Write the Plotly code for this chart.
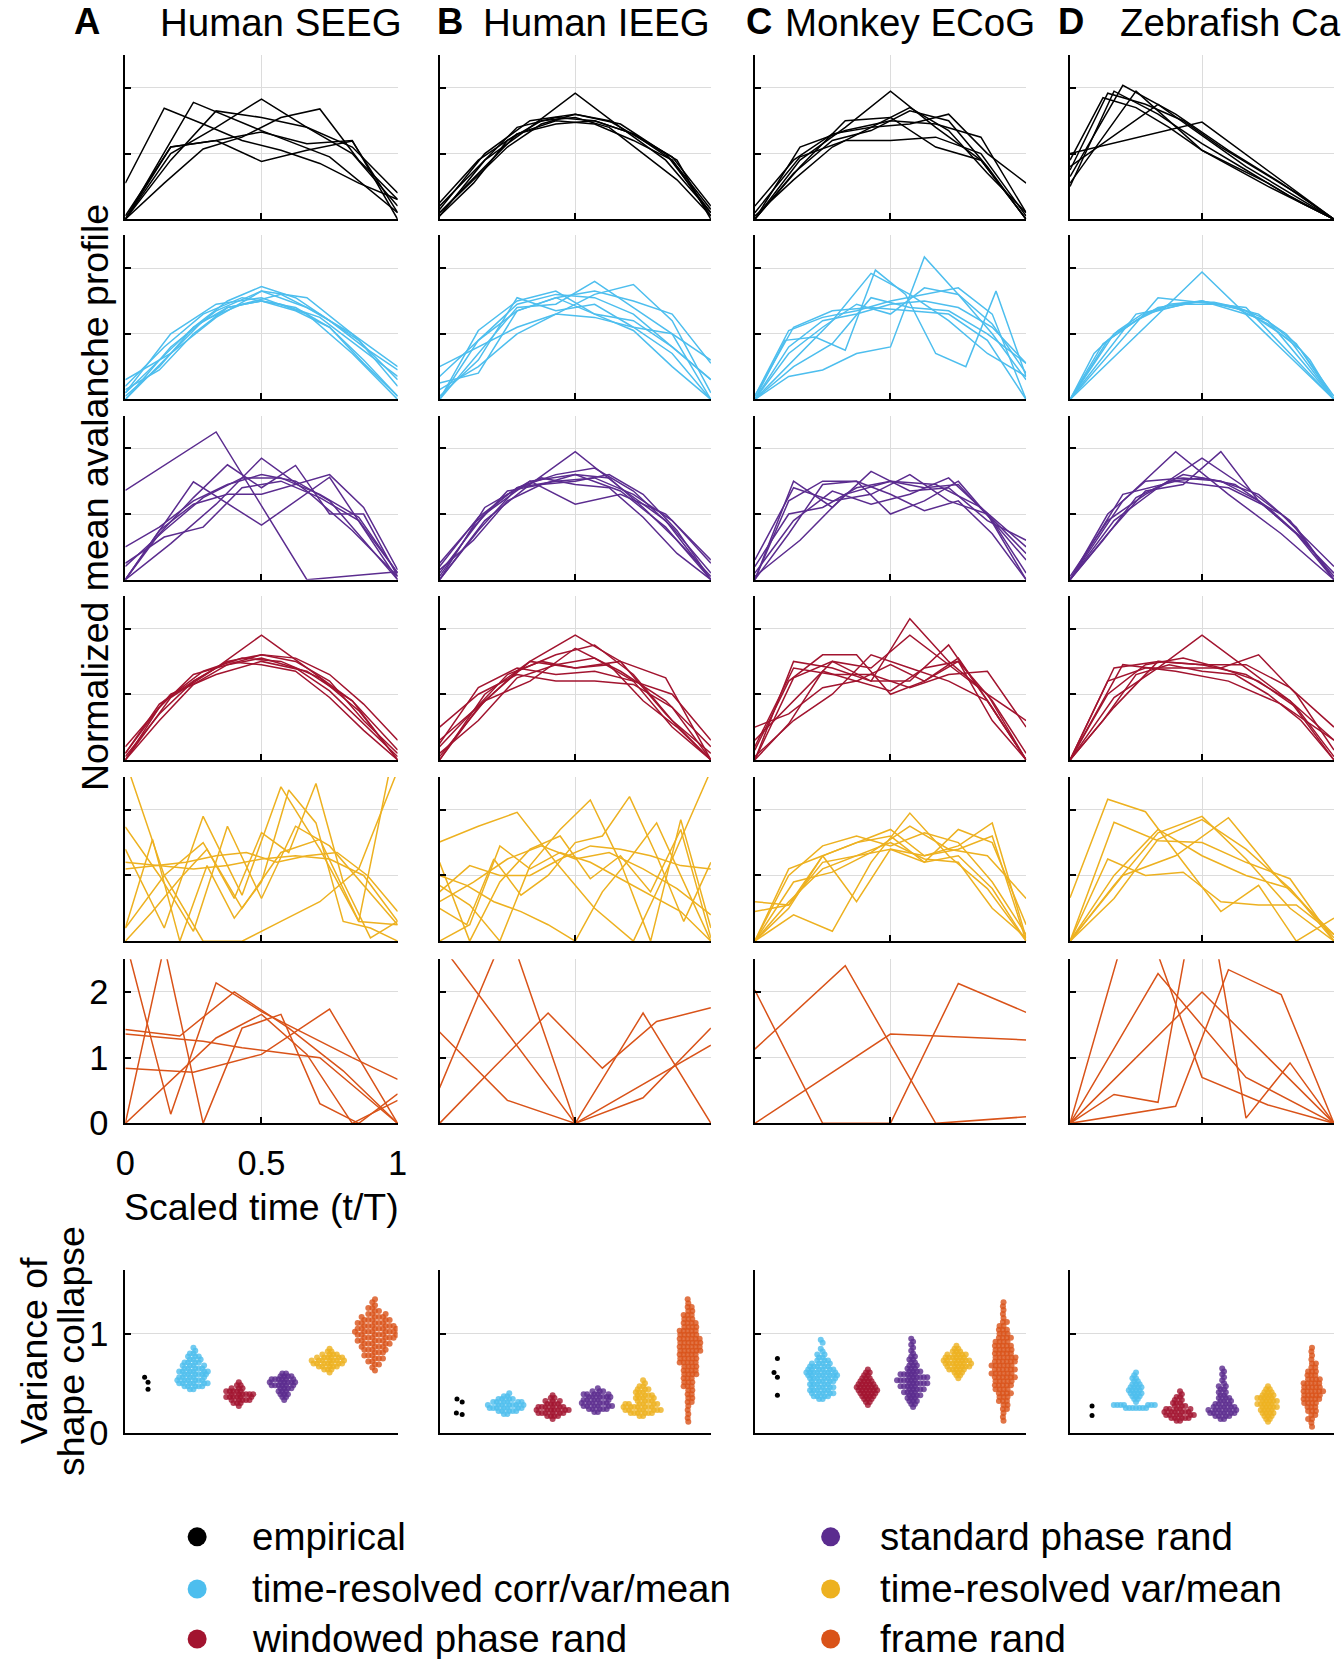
import numpy as np
import plotly.graph_objects as go

FONT = "Liberation Sans, Arial, Helvetica, sans-serif"

# ---------------- labels / categories ----------------
COLUMN_TITLES = ["Human SEEG", "Human IEEG", "Monkey ECoG", "Zebrafish Ca"]
LETTERS = ["A", "B", "C", "D"]
CATEGORIES = ["empirical", "time-resolved corr/var/mean", "windowed phase rand",
              "standard phase rand", "time-resolved var/mean", "frame rand"]
COLORS = ["#000000", "#4DBEEE", "#A2142F", "#5B2C8F", "#EDB120", "#D95319"]
# profile rows (top->bottom) use categories in this order
PROFILE_ROWS = [0, 1, 3, 2, 4, 5]
X_TICKS = [0, 0.5, 1]
X_TICK_TEXT = ["0", "0.5", "1"]
Y_TICKS = [0, 1, 2]
VAR_TICKS = [0, 1]

# ---------------- mean avalanche profiles (y values over scaled time 0..1) ----------------
SEEG_EMP = [
    [0.55, 1.69, 1.45, 1.2, 1.05, 0.85, 0.55, 0.3],
    [0.0, 1.78, 1.35, 0.95, 0.1],
    [0.0, 1.0, 1.4, 1.83, 1.4, 1.0, 0.2],
    [0.0, 0.9, 1.65, 1.55, 1.4, 1.1, 0.4],
    [0.0, 1.1, 1.2, 1.33, 1.15, 1.2, 0.0],
    [0.0, 0.55, 1.07, 1.25, 1.55, 1.68, 0.9, 0.3],
    [0.05, 1.1, 1.2, 0.88, 1.05, 1.19, 0.1],
]
IEEG_EMP = [
    [0.1, 0.7, 1.3, 1.5, 1.45, 1.2, 0.9, 0.15],
    [0.2, 0.8, 1.4, 1.55, 1.5, 1.3, 0.9, 0.05],
    [0.05, 0.9, 1.4, 1.92, 1.4, 0.9, 0.1],
    [0.15, 1.0, 1.5, 1.6, 1.45, 1.0, 0.1],
    [0.1, 0.6, 1.1, 1.45, 1.6, 1.5, 1.2, 0.9, 0.0],
    [0.25, 0.9, 1.3, 1.45, 1.5, 1.3, 0.95, 0.2],
    [0.05, 0.55, 1.2, 1.5, 1.55, 1.4, 1.0, 0.6, 0.05],
]
ECOG_EMP = [
    [0.0, 0.9, 1.4, 1.95, 1.4, 0.9, 0.0],
    [0.2, 0.9, 1.3, 1.4, 1.45, 1.6, 1.0, 0.55],
    [0.0, 1.1, 1.35, 1.5, 1.45, 1.25, 0.1],
    [0.0, 0.7, 1.2, 1.35, 1.65, 1.5, 0.8, 0.0],
    [0.1, 0.95, 1.2, 1.2, 1.25, 1.0, 0.05],
    [0.0, 0.8, 1.5, 1.55, 1.1, 0.9, 0.0],
    [0.05, 0.6, 1.1, 1.4, 1.7, 1.35, 0.7, 0.1],
]
ZF_EMP = [
    [0.75, 1.92, 1.75, 1.5, 1.1, 0.75, 0.4, 0.0],
    [0.65, 2.04, 1.6, 1.05, 0.55, 0.0],
    [0.55, 1.95, 1.05, 0.5, 0.0],
    [0.8, 1.75, 0.8, 0.0],
    [1.0, 1.48, 0.0],
    [0.5, 1.95, 1.6, 1.15, 0.75, 0.35, 0.0],
    [0.9, 1.85, 1.7, 1.4, 1.05, 0.8, 0.55, 0.25, 0.0],
]

SEEG_TRCVM = [
    [0.1, 0.6, 1.1, 1.4, 1.5, 1.4, 1.1, 0.6, 0.05],
    [0.2, 0.8, 1.3, 1.55, 1.45, 1.25, 0.8, 0.35],
    [0.05, 0.5, 1.1, 1.5, 1.72, 1.55, 1.2, 0.8, 0.45],
    [0.3, 0.7, 1.25, 1.65, 1.55, 1.0, 0.5],
    [0.0, 0.6, 1.2, 1.45, 1.6, 1.3, 0.9, 0.2],
    [0.15, 0.45, 1.0, 1.4, 1.5, 1.35, 1.1, 0.55, 0.05],
    [0.1, 1.0, 1.45, 1.55, 1.3, 0.7, 0.0],
    [0.0, 0.8, 1.35, 1.65, 1.4, 1.0, 0.3],
]
IEEG_TRCVM = [
    [0.35, 0.9, 1.45, 1.6, 1.55, 1.3, 0.8, 0.3],
    [0.0, 0.7, 1.4, 1.45, 1.8, 1.4, 1.0, 0.0],
    [0.5, 0.8, 1.1, 1.3, 1.25, 1.1, 1.0, 0.6],
    [0.0, 1.05, 1.5, 1.65, 1.3, 1.05, 0.5, 0.0],
    [0.15, 0.5, 1.0, 1.3, 1.6, 1.75, 1.2, 0.1],
    [0.25, 0.4, 1.35, 1.55, 1.65, 1.5, 1.3, 0.55],
    [0.0, 0.9, 1.35, 1.55, 1.3, 1.2, 0.8, 0.3],
    [0.05, 0.6, 1.55, 1.35, 1.45, 1.1, 0.7, 0.0],
]
ECOG_TRCVM = [
    [0.0, 0.35, 0.45, 0.7, 0.8, 2.17, 1.6, 1.0, 0.3],
    [0.0, 0.9, 0.95, 0.75, 1.97, 1.6, 0.7, 0.5, 1.65, 0.35],
    [0.0, 0.6, 1.2, 1.92, 1.6, 1.2, 0.7, 0.35],
    [0.05, 1.05, 1.25, 1.35, 1.5, 1.6, 1.7, 1.3, 0.0],
    [0.0, 0.8, 1.2, 1.3, 1.45, 1.5, 1.4, 1.1, 0.55],
    [0.0, 0.7, 1.1, 1.45, 1.3, 1.7, 1.6, 1.15, 0.4],
    [0.05, 1.1, 1.35, 1.4, 1.35, 1.3, 0.9, 0.0],
    [0.0, 0.5, 0.85, 1.55, 1.4, 1.35, 1.0, 0.55],
]
ZF_TRCVM = [
    [0.0, 1.94, 0.0],
    [0.0, 1.55, 1.4, 0.0],
    [0.0, 1.3, 1.5, 1.2, 0.0],
    [0.0, 1.0, 1.4, 1.5, 1.35, 0.9, 0.0],
    [0.0, 0.9, 1.3, 1.45, 1.45, 1.3, 0.85, 0.0],
    [0.0, 0.85, 1.2, 1.45, 1.5, 1.4, 1.15, 0.75, 0.05],
    [0.0, 0.7, 1.05, 1.3, 1.42, 1.48, 1.48, 1.4, 1.25, 1.0, 0.6, 0.0],
]

SEEG_STD = [
    [1.36, 2.25, 0.0, 0.12],
    [0.0, 1.49, 0.83, 1.56, 0.0],
    [0.0, 0.55, 1.15, 1.85, 1.35, 0.75, 0.05],
    [0.25, 0.65, 0.8, 1.4, 1.5, 1.25, 0.9, 0.1],
    [0.5, 0.8, 1.2, 1.45, 1.6, 1.5, 1.2, 0.6, 0.0],
    [0.0, 0.7, 1.25, 1.75, 1.4, 1.74, 1.0, 1.0, 0.05],
    [0.0, 0.75, 1.15, 1.3, 1.3, 1.45, 1.6, 1.1, 0.15],
    [0.2, 0.75, 1.25, 1.55, 1.55, 1.3, 0.95, 0.1],
]
IEEG_STD = [
    [0.0, 0.9, 1.45, 1.95, 1.4, 0.9, 0.0],
    [0.2, 0.95, 1.4, 1.6, 1.7, 1.35, 0.8, 0.1],
    [0.05, 0.8, 1.35, 1.45, 1.6, 1.55, 1.1, 0.6, 0.05],
    [0.1, 1.0, 1.5, 1.15, 1.3, 1.0, 0.3],
    [0.0, 0.75, 1.4, 1.5, 1.55, 1.3, 0.9, 0.25],
    [0.25, 0.85, 1.3, 1.55, 1.45, 1.4, 0.95, 0.4, 0.0],
    [0.0, 1.1, 1.5, 1.6, 1.35, 0.8, 0.0],
    [0.15, 0.6, 1.2, 1.45, 1.5, 1.6, 1.3, 0.75, 0.0],
]
ECOG_STD = [
    [0.3, 1.4, 1.2, 1.3, 1.6, 1.2, 1.0, 0.4],
    [0.0, 1.5, 1.1, 1.65, 1.35, 1.4, 0.9, 0.6],
    [0.0, 0.7, 1.45, 1.5, 1.3, 1.05, 1.2, 0.7, 0.0],
    [0.2, 1.0, 1.1, 1.4, 1.5, 1.4, 1.45, 0.9, 0.1],
    [0.1, 0.9, 1.35, 1.15, 1.3, 1.55, 1.0, 0.0],
    [0.0, 1.2, 1.5, 1.5, 1.0, 1.2, 1.5, 0.9, 0.3],
    [0.05, 0.6, 1.3, 1.5, 1.45, 1.1, 0.5],
]
ZF_STD = [
    [0.0, 1.2, 1.95, 1.3, 0.7, 0.0],
    [0.0, 0.9, 1.4, 1.85, 1.4, 0.9, 0.0],
    [0.0, 0.7, 1.35, 1.45, 1.95, 1.2, 0.7, 0.0],
    [0.0, 1.0, 1.5, 1.55, 1.5, 1.2, 0.7, 0.1],
    [0.05, 0.9, 1.3, 1.6, 1.5, 1.3, 0.8, 0.0],
    [0.0, 0.6, 1.25, 1.5, 1.55, 1.45, 1.1, 0.65, 0.05],
    [0.0, 1.3, 1.5, 1.4, 1.0, 0.2],
]

SEEG_WIN = [
    [0.0, 0.95, 1.4, 1.9, 1.4, 0.9, 0.0],
    [0.05, 0.7, 1.2, 1.5, 1.6, 1.5, 1.2, 0.6, 0.1],
    [0.1, 0.9, 1.35, 1.55, 1.5, 1.25, 0.75, 0.0],
    [0.0, 0.8, 1.3, 1.45, 1.55, 1.4, 1.05, 0.55, 0.05],
    [0.2, 1.0, 1.3, 1.5, 1.35, 0.9, 0.15],
    [0.0, 0.6, 1.15, 1.45, 1.6, 1.55, 1.3, 0.85, 0.3],
    [0.1, 0.85, 1.2, 1.5, 1.45, 1.35, 0.95, 0.45, 0.0],
]
IEEG_WIN = [
    [0.3, 0.9, 1.5, 1.9, 1.5, 1.25, 0.0],
    [0.0, 0.8, 1.35, 1.6, 1.75, 1.3, 0.6, 0.1],
    [0.5, 1.0, 1.3, 1.2, 1.2, 1.15, 0.8, 0.0],
    [0.1, 0.6, 1.25, 1.45, 1.55, 1.2, 1.0, 0.3],
    [0.0, 1.0, 1.5, 1.4, 1.5, 0.7, 0.0],
    [0.2, 0.75, 1.3, 1.5, 1.4, 1.45, 0.9, 0.5, 0.0],
    [0.05, 0.9, 1.2, 1.7, 1.35, 0.9, 0.2],
    [0.25, 1.1, 1.4, 1.3, 1.35, 1.2, 0.5, 0.0],
]
ECOG_WIN = [
    [0.0, 1.5, 1.4, 1.2, 2.15, 1.5, 1.0, 0.0],
    [0.3, 0.9, 1.5, 1.2, 1.2, 1.75, 0.9, 0.0],
    [0.0, 1.25, 1.5, 1.4, 1.9, 1.45, 1.0, 0.6],
    [0.15, 1.2, 1.6, 1.6, 1.0, 1.2, 1.5, 0.6, 0.0],
    [0.5, 0.7, 1.1, 1.2, 1.05, 1.4, 1.5, 0.9, 0.1],
    [0.0, 0.55, 1.35, 1.2, 1.45, 1.2, 1.55, 0.8, 0.0],
    [0.2, 1.4, 1.3, 1.3, 1.1, 1.3, 1.35, 0.5],
    [0.05, 0.6, 1.0, 1.6, 1.4, 1.2, 0.9, 0.0],
]
ZF_WIN = [
    [0.0, 0.95, 1.4, 1.9, 1.4, 0.9, 0.0],
    [0.0, 1.4, 1.5, 1.45, 1.3, 0.9, 0.3],
    [0.0, 1.0, 1.45, 1.55, 1.4, 1.6, 1.0, 0.15],
    [0.0, 0.8, 1.5, 1.45, 1.45, 1.1, 0.5],
    [0.0, 1.2, 1.4, 1.4, 1.4, 1.2, 0.8, 0.05],
    [0.0, 0.6, 1.3, 1.45, 1.35, 1.3, 1.0, 0.6, 0.0],
    [0.0, 1.45, 1.35, 1.2, 0.85, 0.3],
]

SEEG_TRVM = [
    [2.75, 1.0, 0.0, 0.0, 0.3, 0.6, 1.1, 2.6],
    [1.74, 1.0, 0.15, 1.75, 0.65, 1.75, 1.45, 0.85, 0.25],
    [0.2, 1.55, 0.0, 1.15, 0.35, 0.9, 2.3, 1.8, 0.3, 0.2, 0.0],
    [1.1, 1.15, 1.2, 1.3, 1.35, 1.2, 1.3, 1.35, 1.0, 0.45],
    [1.2, 1.15, 1.1, 1.15, 1.25, 1.3, 1.25, 1.0, 0.3],
    [0.0, 0.45, 0.95, 1.4, 0.65, 1.65, 1.35, 2.4, 0.9, 0.05, 0.3],
    [1.4, 0.2, 1.9, 0.7, 2.35, 1.4, 0.3, 0.25],
    [0.2, 1.0, 1.5, 0.5, 1.35, 1.55, 0.3, 3.2],
]
IEEG_TRVM = [
    [1.51, 1.75, 1.96, 1.2, 0.5, 0.0, 1.25, 2.6],
    [0.85, 0.55, 0.0, 1.15, 1.7, 2.15, 1.2, 0.0, 1.85, 0.2],
    [0.5, 0.25, 1.25, 0.7, 1.0, 1.5, 1.6, 2.2, 1.3, 0.3, 1.2],
    [0.75, 1.15, 1.0, 1.0, 1.25, 1.45, 1.4, 1.3, 1.15, 1.1],
    [1.0, 0.85, 0.6, 0.45, 0.25, 0.0, 0.75, 1.25, 1.8, 0.9, 0.0],
    [0.0, 0.25, 1.45, 1.1, 1.35, 1.2, 0.95, 0.7, 0.45, 0.0],
    [1.2, 0.0, 0.9, 1.4, 1.6, 0.95, 1.3, 0.75, 1.7, 0.05],
    [0.6, 0.9, 1.25, 1.45, 1.25, 1.35, 1.1, 0.8, 0.4],
]
ECOG_TRVM = [
    [0.0, 0.4, 0.15, 1.2, 1.95, 1.3, 0.8, 0.0],
    [0.6, 0.55, 1.3, 1.5, 1.7, 1.3, 1.4, 1.6, 0.0],
    [0.0, 1.1, 1.3, 0.6, 1.4, 1.3, 1.45, 1.8, 0.05],
    [0.0, 0.5, 1.3, 1.5, 1.6, 1.2, 1.7, 1.5, 0.25],
    [0.45, 0.55, 1.2, 1.3, 1.4, 1.2, 1.3, 0.8, 0.0],
    [0.0, 0.9, 1.05, 1.35, 1.75, 1.4, 1.3, 0.65],
    [0.0, 1.0, 1.45, 1.6, 1.45, 1.65, 1.5, 0.9, 0.1],
    [0.0, 0.6, 1.1, 1.3, 1.5, 1.25, 1.2, 0.5, 0.05],
]
ZF_TRVM = [
    [0.66, 2.16, 1.97, 1.2, 0.45, 0.85, 0.0, 0.35],
    [0.0, 1.81, 1.53, 1.5, 1.2, 0.95, 0.0],
    [0.0, 1.25, 1.0, 1.05, 0.6, 0.55, 0.55, 0.1],
    [0.0, 0.85, 1.65, 1.9, 1.25, 0.5, 0.0],
    [0.0, 0.65, 1.55, 1.85, 1.4, 0.8, 0.05],
    [0.0, 1.0, 1.3, 1.88, 0.9, 0.1],
    [0.0, 1.0, 1.7, 1.3, 1.0, 0.8, 0.0],
]

SEEG_FRAME = [
    [2.8, 0.14, 2.14, 1.7, 1.35, 1.0, 0.67],
    [0.0, 2.7, 0.0, 1.45, 1.66, 0.3, 0.0, 0.45],
    [1.43, 1.33, 2.0, 1.45, 0.8, 0.0],
    [1.36, 1.3, 1.25, 1.15, 1.08, 1.0, 0.5, 0.0],
    [0.84, 0.78, 1.05, 1.74, 0.0],
    [0.0, 0.65, 1.3, 1.66, 1.05, 0.0, 0.35],
]
IEEG_FRAME = [
    [2.75, 0.0, 1.19],
    [1.39, 0.35, 0.0, 0.39, 1.45],
    [0.54, 3.0, 0.0, 1.68, 0.0],
    [0.0, 0.85, 1.68, 0.84, 1.55, 1.76],
]
ECOG_FRAME = [
    [2.03, 0.0, 0.0, 2.13, 1.69],
    [1.13, 2.4, 0.0, 0.1],
    [0.0, 1.36, 1.27],
]
ZF_FRAME = [
    [0.0, 3.5, 0.7, 0.28, 0.0],
    [0.0, 2.28, 0.7, 0.0],
    [0.0, 2.0, 0.0],
    [0.0, 0.44, 0.32, 4.0, 0.08, 0.92, 0.0],
    [0.0, 0.13, 0.26, 2.34, 1.96, 0.0],
]

# ---------------- variance of shape collapse ----------------
# empirical values, then surrogate distributions as histograms:
# lowest bin value, bin step and counts per bin for
# [tr corr/var/mean, windowed phase, standard phase, tr var/mean, frame rand]
SEEG_VAR_EMP = [0.44, 0.51, 0.56]
SEEG_VAR_LO = [0.44, 0.27, 0.33, 0.61, 0.63]
SEEG_VAR_STEP = [0.03, 0.03, 0.03, 0.03, 0.03]
SEEG_VAR_COUNTS = [
    [2, 5, 6, 6, 5, 6, 6, 5, 4, 4, 3, 3, 2, 1, 1],
    [1, 3, 5, 6, 6, 5, 3, 2, 1],
    [1, 2, 3, 3, 4, 6, 6, 6, 4, 2],
    [1, 3, 5, 7, 7, 6, 4, 2, 1],
    [1, 1, 2, 2, 3, 3, 3, 4, 4, 5, 5, 6, 6, 7, 6, 6, 5, 5, 4, 3, 2, 2, 1, 1, 1],
]
IEEG_VAR_EMP = [0.185, 0.20, 0.31, 0.34]
IEEG_VAR_LO = [0.19, 0.14, 0.21, 0.17, 0.11]
IEEG_VAR_STEP = [0.03, 0.03, 0.03, 0.03, 0.04]
IEEG_VAR_COUNTS = [
    [2, 5, 7, 7, 6, 4, 2, 1],
    [1, 4, 6, 7, 6, 4, 3, 2, 1],
    [2, 5, 6, 6, 5, 6, 5, 3, 1],
    [2, 6, 7, 7, 6, 4, 4, 4, 3, 3, 2, 1, 1],
    [1, 1, 1, 1, 1, 2, 2, 2, 2, 3, 3, 3, 4, 4, 4, 5, 5, 5, 6, 6, 6, 6, 5, 5, 4, 4, 3, 3, 2, 2, 1, 1],
]
ECOG_VAR_EMP = [0.38, 0.56, 0.61, 0.75]
ECOG_VAR_LO = [0.34, 0.28, 0.26, 0.55, 0.12]
ECOG_VAR_STEP = [0.03, 0.03, 0.03, 0.03, 0.04]
ECOG_VAR_COUNTS = [
    [2, 4, 5, 5, 5, 5, 5, 6, 7, 7, 6, 5, 4, 3, 2, 2, 1, 1, 0, 1, 1],
    [1, 2, 3, 4, 5, 6, 6, 5, 4, 3, 2, 2, 1],
    [1, 2, 3, 3, 4, 4, 5, 5, 6, 6, 6, 5, 4, 3, 3, 2, 2, 2, 1, 1, 1, 1, 1, 1],
    [1, 2, 3, 5, 6, 7, 7, 6, 5, 3, 2, 1],
    [1, 1, 1, 2, 2, 3, 3, 4, 4, 5, 5, 6, 6, 6, 6, 6, 6, 5, 5, 5, 4, 4, 3, 3, 2, 2, 1, 1, 1, 1, 1],
]
ZF_VAR_EMP = [0.175, 0.27]
ZF_VAR_LO = [0.25, 0.12, 0.14, 0.11, 0.06]
ZF_VAR_STEP = [0.03, 0.03, 0.03, 0.03, 0.04]
ZF_VAR_COUNTS = [
    [7, 7, 1, 2, 3, 4, 4, 4, 3, 2, 2, 1, 1],
    [2, 5, 6, 6, 5, 3, 3, 2, 2, 1, 1],
    [2, 4, 6, 6, 5, 4, 3, 3, 2, 2, 2, 2, 1, 1, 1, 1, 1, 1],
    [1, 2, 3, 4, 4, 5, 5, 5, 5, 4, 3, 2, 1],
    [1, 1, 2, 2, 3, 3, 4, 5, 5, 6, 5, 5, 4, 3, 3, 2, 2, 1, 1, 1, 1],
]

# ---------------- assemble ----------------
PROFILES = [
    [SEEG_EMP, SEEG_TRCVM, SEEG_WIN, SEEG_STD, SEEG_TRVM, SEEG_FRAME],
    [IEEG_EMP, IEEG_TRCVM, IEEG_WIN, IEEG_STD, IEEG_TRVM, IEEG_FRAME],
    [ECOG_EMP, ECOG_TRCVM, ECOG_WIN, ECOG_STD, ECOG_TRVM, ECOG_FRAME],
    [ZF_EMP, ZF_TRCVM, ZF_WIN, ZF_STD, ZF_TRVM, ZF_FRAME],
]
VAR_EMP = [SEEG_VAR_EMP, IEEG_VAR_EMP, ECOG_VAR_EMP, ZF_VAR_EMP]
VAR_LO = [SEEG_VAR_LO, IEEG_VAR_LO, ECOG_VAR_LO, ZF_VAR_LO]
VAR_STEP = [SEEG_VAR_STEP, IEEG_VAR_STEP, ECOG_VAR_STEP, ZF_VAR_STEP]
VAR_COUNTS = [SEEG_VAR_COUNTS, IEEG_VAR_COUNTS, ECOG_VAR_COUNTS, ZF_VAR_COUNTS]

# ---------------- layout geometry ----------------
# target positions are given in screenshot pixels; the captured page is
# 1344 x 1680 and is fitted into 1344 x 1659, so convert back to page pixels.
W, H = 1344, 1680
SHOT_SCALE = 1659 / 1680
SHOT_DX = (1344 - W * SHOT_SCALE) / 2
FS = 1 / SHOT_SCALE
COLS_PX = [(124, 397), (439, 711), (755, 1027), (1071, 1343)]
ROWS_PX = [(55, 219), (235, 399), (415, 579), (595, 759), (776, 940), (958, 1122)]
VAR_ROW_PX = (1268, 1431)
LEG_BOX_PX = (1500, 1659)
VAR_RANGE = [0, 1.65]
PROF_RANGE = [0, 2.5]


def fx(px):
    return min(max(((px - SHOT_DX) / SHOT_SCALE) / W, 0.0), 1.0)


def fy(py):
    return min(max(1 - (py / SHOT_SCALE) / H, 0.0), 1.0)


def beeswarm(vals, d, sx, sy):
    vals = np.asarray(vals, dtype=float)
    order = np.argsort(vals, kind="stable")
    placed = []
    offs = np.zeros(len(vals))
    for i in order:
        y = vals[i] * sy
        near = [(px, py) for px, py in placed if abs(py - y) < d]
        cands = [0.0]
        for px, py in near:
            dx = np.sqrt(max(d * d - (py - y) ** 2, 0.0))
            cands += [px + dx, px - dx]
        cands.sort(key=lambda c: (abs(c), c))
        chosen = cands[-1]
        for c in cands:
            if all((c - px) ** 2 + (y - py) ** 2 >= d * d - 1e-6 for px, py in near):
                chosen = c
                break
        placed.append((chosen, y))
        offs[i] = chosen / sx
    return offs


fig = go.Figure()
layout = {}
GRID = "#DCDCDC"
AX = dict(showline=True, linecolor="black", linewidth=2, ticks="inside", ticklen=6,
          tickwidth=2, tickcolor="black", zeroline=False, gridcolor=GRID, gridwidth=1,
          fixedrange=True, tickfont=dict(family=FONT, size=34 * FS, color="black"))

k = 0
for c in range(4):
    x0, x1 = COLS_PX[c]
    for r in range(6):
        k += 1
        y0, y1 = ROWS_PX[r]
        cat = PROFILE_ROWS[r]
        show_labels = (c == 0 and r == 5)
        layout[f"xaxis{k}"] = dict(AX, domain=[fx(x0), fx(x1)], anchor=f"y{k}", range=[0, 1],
                                   tickvals=X_TICKS, ticktext=X_TICK_TEXT, showgrid=True,
                                   showticklabels=show_labels, ticklabelstandoff=8)
        layout[f"yaxis{k}"] = dict(AX, domain=[fy(y1), fy(y0)], anchor=f"x{k}", range=PROF_RANGE,
                                   tickvals=Y_TICKS, showgrid=True, showticklabels=show_labels,
                                   ticklabelstandoff=8)
        for prof in PROFILES[c][cat]:
            t = np.linspace(0, 1, len(prof))
            fig.add_trace(go.Scatter(x=t, y=prof, mode="lines",
                                     line=dict(color=COLORS[cat], width=1.5),
                                     xaxis=f"x{k}", yaxis=f"y{k}", showlegend=False,
                                     hoverinfo="skip"))

# variance panels
for c in range(4):
    k += 1
    x0, x1 = COLS_PX[c]
    y0, y1 = VAR_ROW_PX
    sx = (x1 - x0) / 6.0
    sy = (y1 - y0) / (VAR_RANGE[1] - VAR_RANGE[0])
    layout[f"xaxis{k}"] = dict(AX, domain=[fx(x0), fx(x1)], anchor=f"y{k}", range=[0.5, 6.5],
                               showgrid=False, ticks="", showticklabels=False)
    layout[f"yaxis{k}"] = dict(AX, domain=[fy(y1), fy(y0)], anchor=f"x{k}", range=VAR_RANGE,
                               tickvals=VAR_TICKS, showgrid=True, showticklabels=(c == 0),
                               ticklabelstandoff=8)
    groups = [VAR_EMP[c]]
    for g in range(5):
        lo, st, cnts = VAR_LO[c][g], VAR_STEP[c][g], VAR_COUNTS[c][g]
        vals = []
        for i, n in enumerate(cnts):
            vals += [lo + st * i] * n
        groups.append(vals)
    for g, vals in enumerate(groups):
        d = 6.0 if g == 0 else (4.0 if g == 5 else 3.5)
        offs = beeswarm(vals, d, sx, sy)
        fig.add_trace(go.Scatter(x=(g + 1) + offs, y=vals, mode="markers",
                                 marker=dict(color=COLORS[g], size=5 if g == 0 else 6,
                                             opacity=1.0 if g == 0 else 0.8, line=dict(width=0)),
                                 xaxis=f"x{k}", yaxis=f"y{k}", showlegend=False,
                                 hoverinfo="skip"))

# legend axis (target-pixel coordinates, confined to the legend strip)
k += 1
layout[f"xaxis{k}"] = dict(domain=[0, 1], anchor=f"y{k}",
                           range=[SHOT_DX, SHOT_DX + W * SHOT_SCALE], visible=False,
                           fixedrange=True)
layout[f"yaxis{k}"] = dict(domain=[fy(LEG_BOX_PX[1]), fy(LEG_BOX_PX[0])], anchor=f"x{k}",
                           range=[LEG_BOX_PX[1], LEG_BOX_PX[0]], visible=False, fixedrange=True)
LEG_MARK_X = [196, 831]
LEG_TEXT_X = [250, 879]
LEG_Y = [1535, 1587, 1637]
annotations = []
for i, name in enumerate(CATEGORIES):
    col, row = i // 3, i % 3
    fig.add_trace(go.Scatter(x=[LEG_MARK_X[col]], y=[LEG_Y[row]], mode="markers",
                             marker=dict(color=COLORS[i], size=19, line=dict(width=0)),
                             xaxis=f"x{k}", yaxis=f"y{k}", showlegend=False, hoverinfo="skip",
                             cliponaxis=False))
    annotations.append(dict(text=name, x=fx(LEG_TEXT_X[col]), y=fy(LEG_Y[row]), xref="paper",
                            yref="paper", xanchor="left", yanchor="middle", showarrow=False,
                            borderpad=0, font=dict(family=FONT, size=38 * FS, color="black")))

# titles
LETTER_X = [72, 435, 745, 1058]
TITLE_X = [158, 482, 784, 1120]
for c in range(4):
    annotations.append(dict(text=f"<b>{LETTERS[c]}</b>", x=fx(LETTER_X[c]), y=1, xref="paper",
                            yref="paper", xanchor="left", yanchor="top", showarrow=False,
                            borderpad=0, font=dict(family=FONT, size=36 * FS, color="black")))
    annotations.append(dict(text=COLUMN_TITLES[c], x=fx(TITLE_X[c]), y=1, xref="paper",
                            yref="paper", xanchor="left", yanchor="top", showarrow=False,
                            borderpad=0, font=dict(family=FONT, size=38 * FS, color="black")))

annotations.append(dict(text="Normalized mean avalanche profile", x=fx(93), y=fy(497),
                        xref="paper", yref="paper", xanchor="center", yanchor="middle",
                        textangle=-90, showarrow=False,
                        font=dict(family=FONT, size=37 * FS, color="black")))
annotations.append(dict(text="Scaled time (t/T)", x=fx(261), y=fy(1206),
                        xref="paper", yref="paper", xanchor="center", yanchor="middle",
                        showarrow=False, font=dict(family=FONT, size=37 * FS, color="black")))
annotations.append(dict(text="Variance of", x=fx(32), y=fy(1349),
                        xref="paper", yref="paper", xanchor="center", yanchor="middle",
                        textangle=-90, showarrow=False,
                        font=dict(family=FONT, size=37 * FS, color="black")))
annotations.append(dict(text="shape collapse", x=fx(69), y=fy(1349),
                        xref="paper", yref="paper", xanchor="center", yanchor="middle",
                        textangle=-90, showarrow=False,
                        font=dict(family=FONT, size=37 * FS, color="black")))

fig.update_layout(width=W, height=H, autosize=False, margin=dict(l=0, r=0, t=0, b=0, pad=0),
                  paper_bgcolor="white", plot_bgcolor="rgba(0,0,0,0)", showlegend=False,
                  annotations=annotations, font=dict(family=FONT, color="black"), **layout)

PAGE_FIX = ("var s=document.body.style;s.margin='0';s.padding='0';s.fontSize='0';"
            "s.lineHeight='0';s.overflow='hidden';"
            "document.documentElement.style.overflow='hidden';")
fig.write_html("out.html", config={"displayModeBar": False}, post_script=PAGE_FIX)
